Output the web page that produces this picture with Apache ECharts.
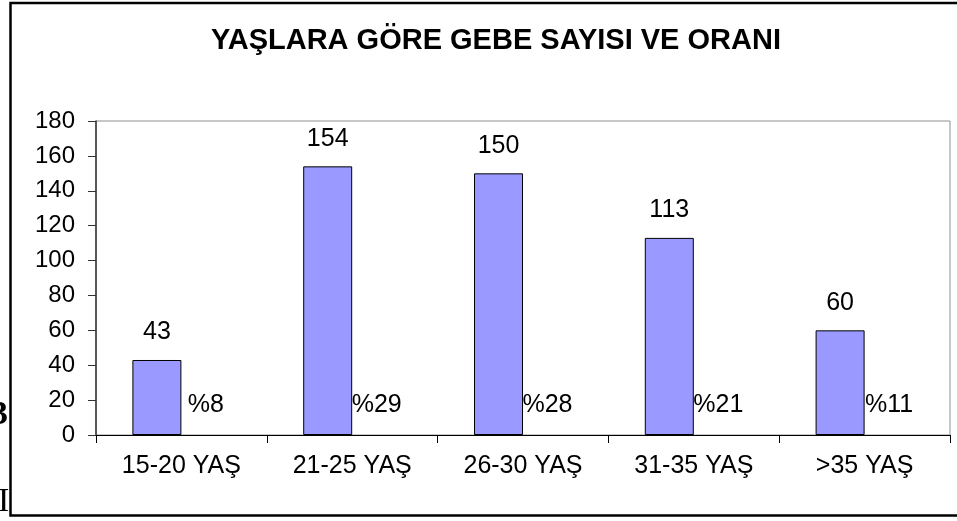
<!DOCTYPE html>
<html><head><meta charset="utf-8">
<script src="https://cdn.jsdelivr.net/npm/echarts@6/dist/echarts.min.js"></script>
<style>html,body{margin:0;padding:0;background:#fff}#c{width:957px;height:521px}</style>
</head><body><div id="c"></div>
<script>
const categories = ['15-20 YAŞ', '21-25 YAŞ', '26-30 YAŞ', '31-35 YAŞ', '>35 YAŞ'];
const counts = [43, 154, 150, 113, 60];
const percents = [8, 29, 28, 21, 11];
const yTicks = [0, 180, 20];

const chart = echarts.init(document.getElementById('c'));
const font = 'Liberation Sans, Arial, sans-serif';
chart.setOption({
  animation: false,
  backgroundColor: '#fff',
  title: {
    text: 'YAŞLARA GÖRE GEBE SAYISI VE ORANI',
    left: 491, top: 21, textAlign: 'center',
    textStyle: {fontFamily: font, fontSize: 29, fontWeight: 'bold', color: '#000'}
  },
  graphic: [
    {type: 'text', left: -9, top: 398, z: 0, style: {text: '3', font: 'bold 34px "Liberation Serif", serif', fill: '#000'}},
    {type: 'text', left: -2, top: 485, z: 0, style: {text: 'I', font: '34px "Liberation Serif", serif', fill: '#000'}},
    {type: 'rect', shape: {x: 10.5, y: 3, width: 960, height: 512.5}, z: -1, style: {fill: '#fff', stroke: '#000', lineWidth: 2.5}}
  ],
  grid: {left: 96, right: 7, top: 121, bottom: 86, show: true, borderColor: '#909090', borderWidth: 1, backgroundColor: 'transparent'},
  xAxis: {
    type: 'category', data: categories,
    axisLine: {lineStyle: {color: '#000', width: 1}},
    axisTick: {show: true, length: 8, lineStyle: {color: '#000'}},
    axisLabel: {fontFamily: font, fontSize: 25, color: '#000', margin: 19}
  },
  yAxis: {
    type: 'value', min: yTicks[0], max: yTicks[1], interval: yTicks[2],
    axisLine: {show: true, lineStyle: {color: '#333', width: 1.5}},
    axisTick: {show: true, length: 8, lineStyle: {color: '#333'}},
    splitLine: {show: false},
    axisLabel: {fontFamily: font, fontSize: 24, color: '#000', margin: 21}
  },
  series: [
    {
      type: 'bar', data: counts, barWidth: 49, barGap: '0%',
      itemStyle: {color: '#9999FF', borderColor: '#000', borderWidth: 1},
      label: {show: true, position: 'top', distance: 15, fontFamily: font, fontSize: 25, color: '#000'}
    },
    {
      type: 'bar', data: percents.map(p => p / 100), barWidth: 49,
      itemStyle: {color: 'transparent'},
      label: {show: true, position: 'top', distance: 17, fontFamily: font, fontSize: 25, color: '#000',
        formatter: p => '%' + percents[p.dataIndex]}
    }
  ]
});
</script></body></html>
